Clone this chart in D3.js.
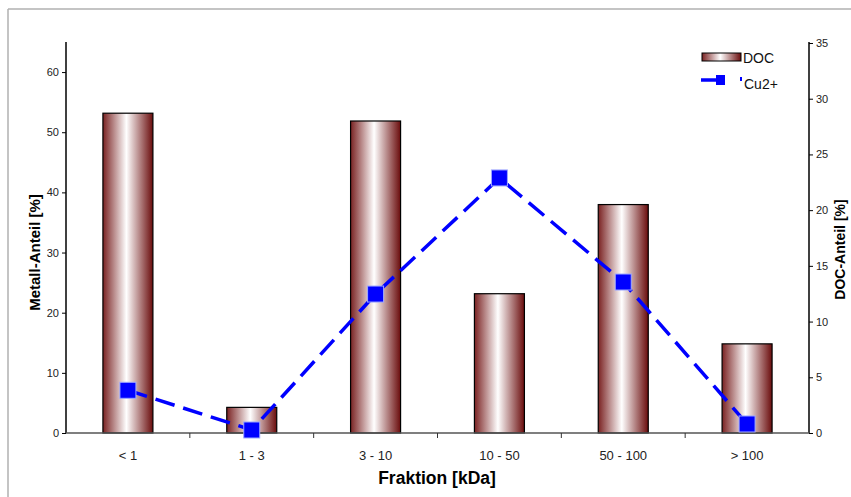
<!DOCTYPE html>
<html><head><meta charset="utf-8">
<script src="https://cdn.jsdelivr.net/npm/d3@7"></script>
<style>body{margin:0;background:#fff}svg{display:block;font-family:"Liberation Sans",Arial,sans-serif}</style>
</head><body><svg id="c" width="851" height="497"></svg>
<script>
const categories = ["< 1", "1 - 3", "3 - 10", "10 - 50", "50 - 100", "> 100"];
const docValues = [28.7, 2.3, 28.0, 12.5, 20.5, 8.0];
const cuValues = [7.1, 0.5, 23.1, 42.4, 25.1, 1.5];
const leftTicks = [0, 10, 20, 30, 40, 50, 60];
const rightTicks = [0, 5, 10, 15, 20, 25, 30, 35];

const svg = d3.select("#c");
const L = 66, R = 809, T = 42, B = 433;

// frame
svg.append("line").attr("x1", 8).attr("x2", 851).attr("y1", 9).attr("y2", 9).attr("stroke", "#b0b0b0").attr("stroke-width", 1.5);
svg.append("line").attr("x1", 8).attr("x2", 8).attr("y1", 9).attr("y2", 497).attr("stroke", "#b0b0b0").attr("stroke-width", 1.5);

const x = d3.scaleBand().domain(categories).range([L, R]).paddingInner(0).paddingOuter(0);
const yL = d3.scaleLinear().domain([0, 65]).range([B, T]);
const yR = d3.scaleLinear().domain([0, 35]).range([B, T + 1]);

const defs = svg.append("defs");
const g = defs.append("linearGradient").attr("id", "barg").attr("x1", "0").attr("x2", "1").attr("y1", "0").attr("y2", "0");
g.append("stop").attr("offset", "0").attr("stop-color", "#7a2222");
g.append("stop").attr("offset", "0.47").attr("stop-color", "#ffffff");
g.append("stop").attr("offset", "1").attr("stop-color", "#6a0c0c");

// bars
const bw = 50;
svg.append("g").selectAll("rect").data(categories).join("rect")
  .attr("x", d => x(d) + x.bandwidth() / 2 - bw / 2)
  .attr("width", bw)
  .attr("y", (d, i) => yR(docValues[i]))
  .attr("height", (d, i) => B - yR(docValues[i]))
  .attr("fill", "url(#barg)").attr("stroke", "#000").attr("stroke-width", 1.2);

// axes
const axL = svg.append("g").attr("transform", `translate(${L},0)`)
  .call(d3.axisLeft(yL).tickValues(leftTicks).tickSize(4).tickPadding(3));
axL.select(".domain").attr("d", `M0,${T}V${B}`).attr("stroke", "#000").attr("stroke-width", 1.5);
axL.selectAll("text").attr("font-size", 11).attr("fill", "#222");

const axR = svg.append("g").attr("transform", `translate(${R},0)`)
  .call(d3.axisRight(yR).tickValues(rightTicks).tickSize(4).tickPadding(3));
axR.select(".domain").attr("d", `M0,${T}V${B}`).attr("stroke", "#000").attr("stroke-width", 1.5);
axR.selectAll("text").attr("font-size", 11).attr("fill", "#222");

// bottom axis
const bx = svg.append("g").attr("transform", `translate(0,${B})`);
bx.append("line").attr("x1", L).attr("x2", R).attr("stroke", "#555").attr("stroke-width", 1.5);
bx.selectAll("line.t").data(categories.slice(1)).join("line").attr("class", "t")
  .attr("x1", d => x(d)).attr("x2", d => x(d)).attr("y1", 0).attr("y2", 5).attr("stroke", "#333");
bx.selectAll("text").data(categories).join("text")
  .attr("x", d => x(d) + x.bandwidth() / 2).attr("y", 27)
  .attr("text-anchor", "middle").attr("font-size", 13).attr("fill", "#222").text(d => d);

// line
const line = d3.line().x((d, i) => x(categories[i]) + x.bandwidth() / 2).y(d => yL(d));
svg.append("path").datum(cuValues).attr("d", line).attr("fill", "none")
  .attr("stroke", "#0000ff").attr("stroke-width", 3.5).attr("stroke-dasharray", "20,9");
svg.append("g").selectAll("rect").data(cuValues).join("rect")
  .attr("x", (d, i) => x(categories[i]) + x.bandwidth() / 2 - 8)
  .attr("y", d => yL(d) - 8).attr("width", 16).attr("height", 16)
  .attr("fill", "#0000ff").attr("stroke", "#9fa8ff").attr("stroke-width", 1);

// titles
svg.append("text").attr("transform", `translate(40,${(T + B) / 2 + 15}) rotate(-90)`)
  .attr("text-anchor", "middle").attr("font-size", 15).attr("font-weight", "bold").text("Metall-Anteil [%]");
svg.append("text").attr("transform", `translate(845,${(T + B) / 2 + 12}) rotate(-90)`)
  .attr("text-anchor", "middle").attr("font-size", 14).attr("font-weight", "bold").text("DOC-Anteil [%]");
svg.append("text").attr("x", 437).attr("y", 484)
  .attr("text-anchor", "middle").attr("font-size", 17.5).attr("font-weight", "bold").text("Fraktion [kDa]");

// legend
const lg = svg.append("g");
lg.append("rect").attr("x", 702).attr("y", 53).attr("width", 39).attr("height", 8)
  .attr("fill", "url(#barg)").attr("stroke", "#000").attr("stroke-width", 1);
lg.append("text").attr("x", 743).attr("y", 63).attr("font-size", 14).attr("fill", "#111").text("DOC");
lg.append("line").attr("x1", 701).attr("x2", 722).attr("y1", 80).attr("y2", 80).attr("stroke", "#0000ff").attr("stroke-width", 3.5);
lg.append("rect").attr("x", 716).attr("y", 75).attr("width", 9).attr("height", 10).attr("fill", "#0000ff");
lg.append("rect").attr("x", 740).attr("y", 77).attr("width", 2).attr("height", 4).attr("fill", "#0000ff");
lg.append("text").attr("x", 744).attr("y", 89).attr("font-size", 14).attr("fill", "#111").text("Cu2+");
</script></body></html>
